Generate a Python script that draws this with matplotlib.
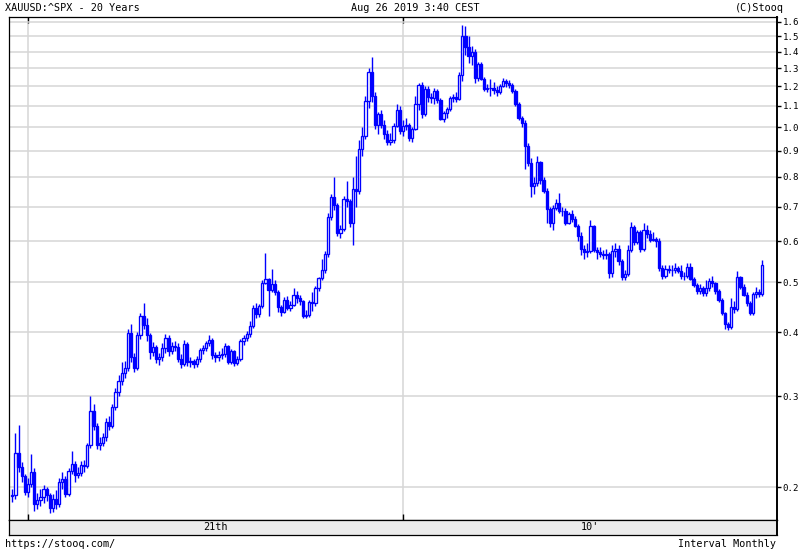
import numpy as np
import matplotlib
matplotlib.use("Agg")
import matplotlib.pyplot as plt

# XAUUSD:^SPX monthly candles, Aug 1999 .. Aug 2019
open0 = 0.192
close = [
    .193, .233, .219, .210, .196,
    .203, .214, .185, .189, .191, .198, .193, .182, .190, .185, .205, .207,
    .194, .215, .222, .211, .213, .221, .220, .241, .281, .263, .241, .243,
    .250, .268, .263, .286, .306, .321, .333, .341, .398, .358, .341, .394,
    .429, .413, .394, .366, .374, .355, .358, .372, .390, .367, .376, .374,
    .354, .346, .379, .350, .351, .346, .355, .369, .373, .380, .386, .361,
    .357, .361, .362, .376, .350, .367, .348, .355, .385, .389, .396, .411,
    .445, .434, .449, .499, .506, .483, .496, .478, .448, .438, .461, .446,
    .452, .473, .466, .459, .430, .432, .457, .456, .487, .509, .529, .568,
    .669, .730, .705, .624, .634, .725, .720, .650, .758, .753, .908, .962,
    1.122, 1.282, 1.148, 1.011, 1.061, 1.009, .968, .935, .942, 1.004, 1.078, .983,
    1.007, 1.011, .952, .993, 1.108, 1.207, 1.061, 1.188, 1.145, 1.138, 1.174, 1.130,
    1.037, 1.063, 1.085, 1.141, 1.142, 1.136, 1.260, 1.500, 1.432, 1.374, 1.401, 1.245,
    1.325, 1.242, 1.185, 1.190, 1.190, 1.178, 1.170, 1.200, 1.230, 1.218, 1.209, 1.175,
    1.111, 1.042, 1.018, .919, .853, .768, .779, .855, .789, .753, .692, .650,
    .698, .713, .686, .688, .650, .677, .664, .643, .614, .580, .572, .575,
    .643, .576, .572, .567, .565, .568, .520, .575, .581, .549, .512, .519,
    .576, .641, .599, .626, .579, .630, .621, .603, .607, .600, .533, .515,
    .531, .528, .529, .532, .526, .513, .514, .535, .508, .494, .481, .487,
    .476, .486, .502, .497, .480, .461, .435, .414, .409, .448, .443, .511,
    .489, .472, .456, .436, .474, .479, .474, .540,
]
high = [
    .198, .255, .264, .224, .212,
    .208, .232, .218, .195, .198, .202, .200, .195, .194, .197, .208, .214,
    .210, .218, .235, .225, .219, .225, .226, .244, .300, .290, .266, .250,
    .255, .272, .275, .290, .312, .330, .350, .352, .405, .415, .365, .400,
    .435, .455, .425, .398, .382, .378, .365, .380, .396, .394, .382, .384,
    .380, .362, .386, .382, .357, .355, .360, .373, .378, .385, .395, .390,
    .366, .368, .372, .380, .378, .371, .369, .360, .388, .395, .402, .420,
    .452, .455, .454, .505, .570, .510, .530, .505, .482, .452, .467, .470,
    .460, .488, .480, .472, .462, .442, .462, .478, .492, .512, .555, .575,
    .680, .740, .800, .712, .645, .735, .785, .725, .800, .880, .945, 1.000,
    1.150, 1.300, 1.370, 1.170, 1.070, 1.080, 1.030, .985, .975, 1.020, 1.110, 1.100,
    1.030, 1.040, 1.020, 1.000, 1.150, 1.220, 1.225, 1.200, 1.200, 1.165, 1.190, 1.185,
    1.140, 1.075, 1.095, 1.150, 1.160, 1.170, 1.280, 1.580, 1.570, 1.500, 1.440, 1.420,
    1.340, 1.335, 1.250, 1.210, 1.240, 1.225, 1.200, 1.210, 1.245, 1.240, 1.235, 1.220,
    1.185, 1.120, 1.050, 1.030, .930, .870, .800, .880, .860, .800, .760, .700,
    .705, .725, .745, .700, .695, .685, .690, .672, .648, .625, .590, .595,
    .660, .645, .585, .585, .578, .580, .572, .590, .595, .590, .555, .528,
    .590, .655, .645, .632, .630, .650, .645, .630, .625, .612, .610, .540,
    .540, .540, .540, .545, .538, .540, .522, .545, .545, .512, .498, .495,
    .492, .505, .510, .515, .500, .485, .465, .438, .418, .465, .460, .525,
    .515, .495, .478, .460, .478, .490, .485, .552,
]
low = [
    .187, .190, .214, .205, .193,
    .191, .200, .180, .181, .184, .186, .188, .178, .179, .181, .183, .198,
    .191, .192, .212, .205, .208, .210, .214, .218, .238, .258, .237, .236,
    .240, .246, .258, .260, .282, .300, .315, .325, .336, .350, .335, .338,
    .388, .405, .385, .355, .360, .348, .345, .352, .365, .360, .362, .368,
    .350, .340, .343, .344, .342, .341, .342, .350, .362, .368, .375, .355,
    .350, .352, .355, .358, .346, .346, .344, .345, .352, .378, .385, .392,
    .408, .425, .428, .445, .495, .430, .478, .472, .438, .430, .435, .442,
    .440, .450, .455, .452, .425, .425, .428, .440, .450, .480, .505, .520,
    .560, .660, .690, .615, .610, .628, .700, .640, .590, .700, .740, .880,
    .950, 1.090, 1.120, .990, .970, .995, .950, .925, .925, .930, 1.000, .970,
    .960, .985, .940, .935, .985, 1.080, 1.040, 1.050, 1.120, 1.115, 1.110, 1.115,
    1.030, 1.025, 1.040, 1.075, 1.120, 1.120, 1.130, 1.230, 1.380, 1.330, 1.320, 1.220,
    1.230, 1.235, 1.175, 1.170, 1.150, 1.160, 1.150, 1.160, 1.195, 1.195, 1.190, 1.165,
    1.100, 1.030, 1.000, .830, .840, .730, .740, .770, .775, .745, .650, .640,
    .630, .690, .680, .672, .645, .648, .655, .640, .600, .565, .555, .560,
    .570, .572, .555, .560, .555, .555, .510, .512, .560, .540, .505, .505,
    .515, .572, .590, .592, .572, .575, .610, .598, .600, .585, .525, .508,
    .510, .520, .515, .520, .520, .508, .505, .510, .505, .490, .475, .475,
    .470, .470, .480, .490, .475, .458, .432, .405, .404, .405, .435, .440,
    .485, .470, .450, .432, .432, .465, .468, .470,
]

yticks = [0.2, 0.3, 0.4, 0.5, 0.6, 0.7, 0.8, 0.9, 1.0, 1.1, 1.2, 1.3, 1.4, 1.5, 1.6]
year_marks = [5, 125]          # Jan 2000, Jan 2010 (month index from Aug 1999)
era_labels = ["21th", "10'"]

close = np.array(close)
high = np.array(high)
low = np.array(low)
opn = np.concatenate([[open0], close[:-1]])
x = np.arange(len(close))

blue = "#0000ff"
font = "DejaVu Sans Mono"
fs = 7.3

fig = plt.figure(figsize=(8, 5.5), dpi=100)
W, H = 800, 550
ax = fig.add_axes([9 / W, 30 / H, 768 / W, 503 / H])

ax.vlines(x, low, high, color=blue, lw=1.0, zorder=2)
up = close >= opn
bot = np.minimum(opn, close)
top = np.maximum(opn, close)
hgt = np.maximum(top - bot, 0.0005)
ax.bar(x[up], hgt[up], bottom=bot[up], width=0.72, facecolor="white",
       edgecolor=blue, lw=0.95, zorder=3)
ax.bar(x[~up], hgt[~up], bottom=bot[~up], width=0.72, facecolor=blue,
       edgecolor=blue, lw=0.95, zorder=3)

ax.set_yscale("log")
ax.set_ylim(0.1726, 1.636)
ax.set_xlim(-1.06, 244.7)
ax.yaxis.tick_right()
ax.set_yticks(yticks)
ax.set_yticklabels([f"{v:.1f}" for v in yticks], fontfamily=font, fontsize=6.6)
ax.yaxis.set_minor_locator(matplotlib.ticker.NullLocator())
ax.tick_params(axis="y", direction="out", length=3, width=1, pad=1, colors="black")
ax.set_xticks(year_marks)
ax.set_xticklabels([])
ax.tick_params(axis="x", direction="in", length=4, width=1, top=True, bottom=True)
ax.grid(True, color="#d6d6d6", lw=1.1, zorder=0)
ax.set_axisbelow(True)
for s in ax.spines.values():
    s.set_linewidth(0.9)
ax.spines["right"].set_linewidth(1.4)

band = fig.add_axes([9 / W, 15 / H, 768 / W, 15 / H])
band.set_facecolor("#ebebeb")
band.set_xlim(ax.get_xlim())
band.set_ylim(0, 1)
band.set_xticks([])
band.set_yticks([])
for s in band.spines.values():
    s.set_linewidth(0.9)
band.spines["right"].set_linewidth(1.4)
band.text((year_marks[0] + year_marks[1]) / 2, 0.5, era_labels[0], ha="center",
          va="center", fontfamily=font, fontsize=fs)
band.text((year_marks[1] + 244.7) / 2, 0.5, era_labels[1], ha="center",
          va="center", fontfamily=font, fontsize=fs)

fig.text(5 / W, 1 - 8 / H, "XAUUSD:^SPX - 20 Years", ha="left", va="center",
         fontfamily=font, fontsize=fs)
fig.text(415 / W, 1 - 8 / H, "Aug 26 2019 3:40 CEST", ha="center", va="center",
         fontfamily=font, fontsize=fs)
fig.text(784 / W, 1 - 8 / H, "(C)Stooq", ha="right", va="center",
         fontfamily=font, fontsize=fs)
fig.text(5 / W, 1 - 544 / H, "https://stooq.com/", ha="left", va="center",
         fontfamily=font, fontsize=fs)
fig.text(776 / W, 1 - 544 / H, "Interval Monthly", ha="right", va="center",
         fontfamily=font, fontsize=fs)

fig.savefig("out.png", dpi=100)
